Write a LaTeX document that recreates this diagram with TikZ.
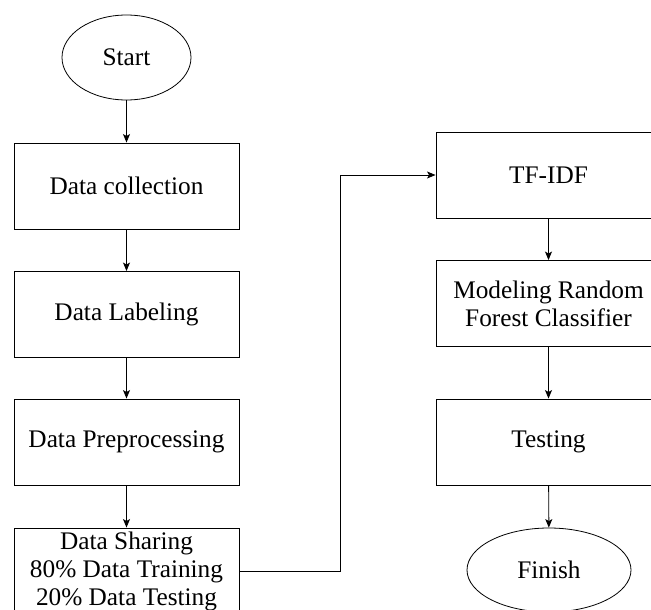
\documentclass[tikz,border=0pt]{standalone}
\usepackage{fontspec}
\setmainfont{Liberation Serif}
\usetikzlibrary{arrows.meta,shapes.geometric}
\begin{document}
\begin{tikzpicture}[x=1pt,y=-1pt,
  font=\fontsize{25.3}{28}\selectfont,
  every node/.style={inner sep=0pt,align=center},
  procbox/.style={draw,line width=0.9pt,minimum width=225pt,minimum height=86pt},
  terminal/.style={draw,ellipse,line width=0.8pt},
  arr/.style={line width=0.9pt,-{Stealth[length=8.5pt,width=7pt,inset=2pt]}}]
\useasboundingbox (0,0) rectangle (651,610);
% left column
\node[terminal,minimum width=129pt,minimum height=85pt] (start) at (126.5,57.5) {Start};
\node[procbox] (collect) at (126.5,186) {Data collection};
\node[procbox] (label) at (126.5,314.5) {Data Labeling};
\node[procbox] (prep) at (126.5,442) {Data Preprocessing};
\node[procbox] (share) at (126.5,571) {Data Sharing\\80\% Data Training\\20\% Data Testing};
% right column
\node[procbox] (tfidf) at (548.5,175) {TF-IDF};
\node[procbox] (model) at (548.5,303.5) {Modeling Random\\Forest Classifier};
\node[procbox] (test) at (548.5,442) {Testing};
\node[terminal,minimum width=164pt,minimum height=84pt] (finish) at (549,570) {Finish};
% connectors
\draw[arr] (start) -- (collect);
\draw[arr] (collect) -- (label);
\draw[arr] (label) -- (prep);
\draw[arr] (prep) -- (share);
\coordinate (jog) at (340,0);
\draw[arr] (share.east) -- (share.east -| jog) |- (tfidf.west);
\draw[arr] (tfidf) -- (model);
\draw[arr] (model) -- (test);
\draw[arr] (test) -- (finish);
\end{tikzpicture}
\end{document}
